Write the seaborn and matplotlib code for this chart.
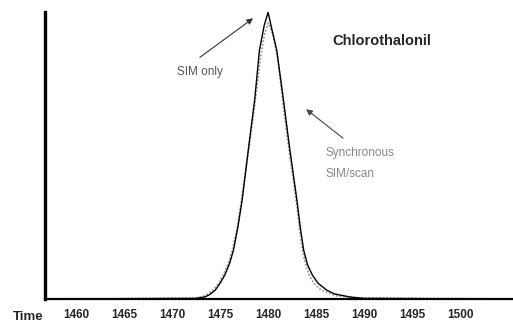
import matplotlib
matplotlib.use("Agg")
import matplotlib.pyplot as plt
import seaborn as sns
import pandas as pd

# --- data ---
time_sim = [1456.7, 1472.5, 1473.4, 1473.9, 1474.5, 1475.0, 1475.5, 1476.0, 1476.4, 1476.85,
            1477.3, 1478.0, 1478.6, 1479.1, 1479.6, 1480.0, 1480.4, 1480.9, 1481.6, 1482.2,
            1483.0, 1483.35, 1483.7, 1484.1, 1484.6, 1485.2, 1486.1, 1486.9, 1488.5, 1490.0, 1505.5]
sim_only = [0.0, 0.2, 0.7, 1.5, 3.1, 5.5, 8.4, 12.5, 17.1, 25.0,
            34.5, 53.7, 69.4, 86.8, 95.5, 100.0, 94.0, 86.8, 69.4, 53.7,
            34.5, 25.0, 17.1, 12.0, 8.4, 5.5, 3.1, 1.8, 0.7, 0.2, 0.0]

time_sync = [1456.7, 1472.3, 1473.3, 1473.8, 1474.4, 1474.9, 1475.4, 1475.9, 1476.3, 1476.8,
             1477.2, 1478.0, 1478.6, 1479.2, 1479.6, 1480.0, 1480.5, 1481.0, 1481.6, 1482.2,
             1483.0, 1483.3, 1483.6, 1484.0, 1484.3, 1484.9, 1485.5, 1487.0, 1489.5, 1505.5]
sync_scan = [0.0, 0.3, 1.0, 1.9, 3.4, 5.8, 8.8, 12.8, 17.3, 25.0,
             34.0, 52.5, 67.5, 84.0, 92.0, 96.2, 92.5, 84.0, 67.0, 51.5,
             32.5, 24.0, 16.5, 11.0, 8.0, 5.0, 3.2, 1.2, 0.4, 0.0]

tick_values = [1460, 1465, 1470, 1475, 1480, 1485, 1490, 1495, 1500]
tick_labels = ["1460", "1465", "1470", "1475", "1480", "1485", "1490", "1495", "1500"]

df_sim = pd.DataFrame({"time": time_sim, "signal": sim_only})
df_sync = pd.DataFrame({"time": time_sync, "signal": sync_scan})

sns.set_style("white")
plt.rcParams["font.family"] = ["Liberation Sans", "DejaVu Sans"]

W, H = 513, 325
fig = plt.figure(figsize=(W / 100, H / 100), dpi=100)
ax = fig.add_axes([44.7 / W, 26 / H, 1 - 44.7 / W, 287 / H])

sns.lineplot(data=df_sync, x="time", y="signal", ax=ax, color="#9a9a9a",
             linewidth=1.3, linestyle=(0, (1, 1)), sort=False)
sns.lineplot(data=df_sim, x="time", y="signal", ax=ax, color="black",
             linewidth=1.0, sort=False)

ax.set_xlim(1456.74, 1505.5)
ax.set_ylim(0, 100.1)
ax.set_xticks(tick_values)
ax.set_xticklabels(tick_labels, fontsize=8.5, fontweight="bold")
ax.set_yticks([])
ax.set_xlabel("")
ax.set_ylabel("")
ax.tick_params(axis="x", length=0, pad=7.5)

for side in ["top", "right"]:
    ax.spines[side].set_visible(False)
ax.spines["left"].set_linewidth(2.4)
ax.spines["bottom"].set_linewidth(1.6)
ax.spines["left"].set_color("black")
ax.spines["bottom"].set_color("black")

fig.text(13 / W, 1 - 317 / H, "Time", fontsize=9.5, fontweight="bold", va="center", ha="left")

ax.text(1486.67, 89.9, "Chlorothalonil", fontsize=10.5, fontweight="bold", va="center", ha="left")

ax.text(1475.3, 79.1, "SIM only", fontsize=8.5, color="#555555", va="center", ha="right")
ax.annotate("", xy=(1478.44, 97.9), xytext=(1472.9, 84.3),
            arrowprops=dict(arrowstyle="-|>", color="#333333", lw=0.8,
                            mutation_scale=9, shrinkA=0, shrinkB=0))

ax.text(1485.94, 50.9, "Synchronous", fontsize=8.5, color="#888888", va="center", ha="left")
ax.text(1485.94, 43.6, "SIM/scan", fontsize=8.5, color="#888888", va="center", ha="left")
ax.annotate("", xy=(1483.96, 66.2), xytext=(1487.8, 56.1),
            arrowprops=dict(arrowstyle="-|>", color="#444444", lw=0.8,
                            mutation_scale=9, shrinkA=0, shrinkB=0))

fig.savefig("out.png", dpi=100)
